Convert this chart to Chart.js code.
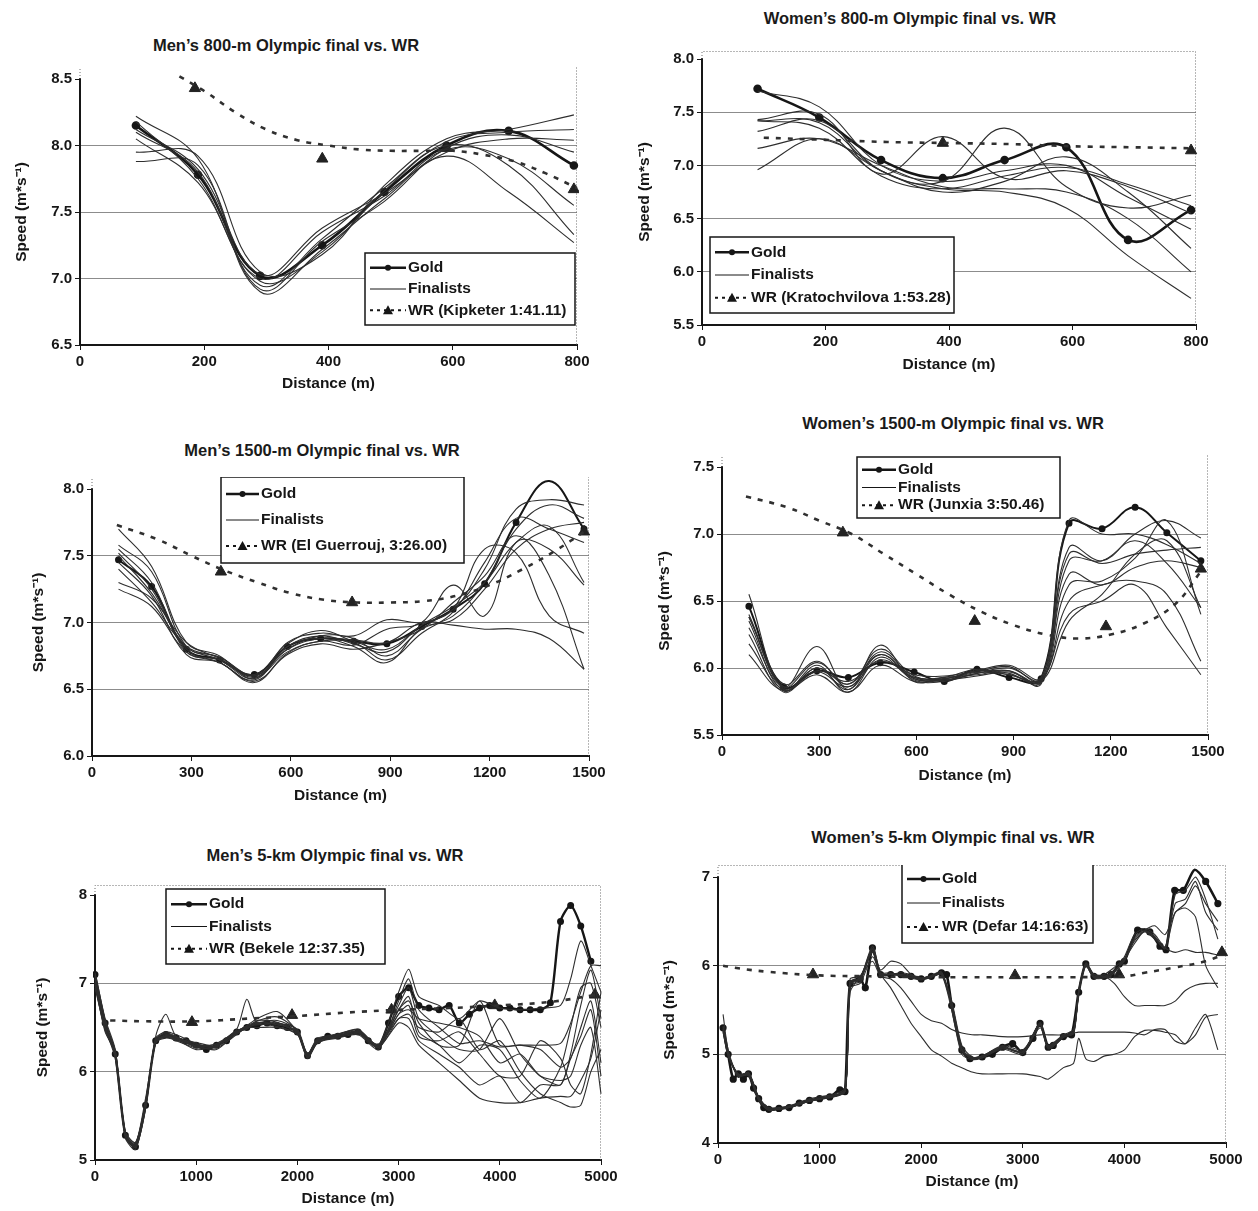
<!DOCTYPE html>
<html>
<head>
<meta charset="utf-8">
<title>Olympic finals vs. WR</title>
<script src="https://cdn.jsdelivr.net/npm/chart.js@4.4.1/dist/chart.umd.min.js"></script>
<style>
  body { margin: 0; background: #fff; width: 1258px; height: 1211px; position: relative; overflow: hidden;
         font-family: "Liberation Sans", Arial, sans-serif; }
  canvas { position: absolute; }
  .ptitle { position: absolute; transform: translate(-50%, -50%); font-weight: bold; font-size: 16.5px;
            color: #1a1a1a; white-space: nowrap; }
</style>
</head>
<body>
<script>
// ---- Men's 800 m ----
const m800Dist = [90, 190, 290, 390, 490, 590, 690, 795];
const m800Gold = [8.15, 7.78, 7.02, 7.25, 7.65, 8.00, 8.11, 7.85];
const m800Finalists = [
  [8.22, 7.90, 6.90, 7.22, 7.60, 7.92, 7.65, 7.27],
  [8.10, 7.80, 6.95, 7.30, 7.68, 8.00, 7.85, 7.33],
  [8.05, 7.72, 7.00, 7.35, 7.62, 7.97, 7.90, 7.55],
  [7.95, 7.92, 7.05, 7.18, 7.70, 8.05, 8.12, 8.23],
  [7.88, 7.85, 6.92, 7.28, 7.58, 7.98, 8.08, 7.95],
  [8.18, 7.75, 6.98, 7.20, 7.66, 8.03, 8.10, 8.12],
  [8.12, 7.82, 7.03, 7.38, 7.64, 7.95, 8.05, 8.04]
];
const m800WrDist = [160, 200, 250, 300, 350, 400, 450, 500, 550, 600, 650, 700, 750, 800];
const m800Wr = [8.52, 8.41, 8.25, 8.12, 8.04, 8.00, 7.97, 7.96, 7.96, 7.96, 7.93, 7.88, 7.79, 7.68];
const m800WrMarkDist = [185, 390, 590, 795];
const m800WrMarks = [8.43, 7.90, 7.98, 7.67];
const m800Labels = ["Gold", "Finalists", "WR (Kipketer 1:41.11)"];

// ---- Women's 800 m ----
const w800Dist = [90, 190, 290, 390, 490, 590, 690, 792];
const w800Gold = [7.72, 7.45, 7.05, 6.88, 7.05, 7.17, 6.30, 6.58];
const w800Finalists = [
  [7.70, 7.55, 7.00, 6.85, 6.95, 7.00, 6.70, 6.40],
  [7.43, 7.48, 6.92, 7.27, 6.88, 6.95, 6.80, 6.55],
  [7.42, 7.40, 6.95, 6.85, 7.35, 6.80, 6.60, 6.72],
  [7.32, 7.42, 6.95, 6.78, 6.75, 6.60, 6.15, 5.75],
  [7.16, 7.25, 7.00, 6.80, 6.78, 6.75, 6.50, 6.00],
  [6.96, 7.25, 6.95, 6.75, 6.85, 7.08, 6.75, 6.22],
  [7.42, 7.35, 6.90, 6.78, 6.90, 6.98, 6.82, 6.62]
];
const w800WrDist = [100, 200, 300, 400, 500, 600, 700, 800];
const w800Wr = [7.26, 7.24, 7.22, 7.21, 7.20, 7.18, 7.17, 7.16];
const w800WrMarkDist = [390, 792];
const w800WrMarks = [7.21, 7.14];
const w800Labels = ["Gold", "Finalists", "WR (Kratochvilova 1:53.28)"];

// ---- Men's 1500 m ----
const m1500Dist = [80, 180, 285, 385, 490, 590, 690, 790, 890, 995, 1090, 1185, 1280, 1380, 1485];
const m1500Gold = [7.47, 7.27, 6.80, 6.72, 6.61, 6.82, 6.88, 6.86, 6.84, 6.97, 7.10, 7.29, 7.75, 8.06, 7.70];
const m1500Finalists = [
  [7.70, 7.42, 6.85, 6.75, 6.58, 6.85, 6.92, 6.90, 7.02, 7.00, 7.10, 7.40, 7.85, 7.92, 7.88],
  [7.58, 7.38, 6.82, 6.74, 6.60, 6.80, 6.90, 6.88, 6.75, 6.95, 7.05, 7.30, 7.70, 7.88, 7.78],
  [7.55, 7.30, 6.78, 6.72, 6.59, 6.78, 6.86, 6.85, 6.72, 6.92, 7.08, 7.45, 7.78, 7.70, 7.60],
  [7.52, 7.25, 6.80, 6.70, 6.57, 6.82, 6.88, 6.82, 6.70, 6.96, 7.02, 7.25, 7.55, 7.70, 7.75],
  [7.45, 7.20, 6.76, 6.70, 6.55, 6.77, 6.86, 6.83, 6.95, 7.00, 7.28, 7.05, 7.60, 7.55, 7.28],
  [7.40, 7.15, 6.82, 6.74, 6.61, 6.84, 6.94, 6.86, 6.80, 6.98, 7.10, 7.55, 7.52, 7.05, 6.92],
  [7.30, 7.18, 6.85, 6.73, 6.60, 6.80, 6.88, 6.87, 6.85, 7.00, 6.98, 6.95, 6.95, 6.88, 6.65],
  [7.25, 7.12, 6.78, 6.70, 6.56, 6.76, 6.84, 6.80, 6.85, 6.95, 7.15, 7.35, 7.65, 7.35, 6.65],
  [7.50, 7.22, 6.82, 6.72, 6.58, 6.82, 6.90, 6.84, 6.78, 6.98, 7.12, 7.30, 7.60, 7.72, 7.30]
];
const m1500WrDist = [75, 200, 300, 400, 500, 600, 700, 800, 900, 1000, 1100, 1200, 1300, 1400, 1485];
const m1500Wr = [7.73, 7.62, 7.50, 7.39, 7.30, 7.22, 7.17, 7.15, 7.15, 7.16, 7.20, 7.28, 7.40, 7.54, 7.68];
const m1500WrMarkDist = [389, 785, 1485];
const m1500WrMarks = [7.38, 7.15, 7.68];
const m1500Labels = ["Gold", "Finalists", "WR (El Guerrouj, 3:26.00)"];

// ---- Women's 1500 m ----
const w1500Dist = [83, 190, 293, 390, 488, 593, 686, 787, 886, 985, 1071, 1173, 1275, 1373, 1478];
const w1500Gold = [6.46, 5.86, 5.98, 5.93, 6.04, 5.97, 5.90, 5.99, 5.93, 5.92, 7.08, 7.04, 7.20, 7.01, 6.80];
const w1500Finalists = [
  [6.55, 5.84, 6.00, 5.88, 6.10, 5.92, 5.91, 5.96, 6.00, 5.92, 7.10, 7.00, 7.00, 6.92, 6.78],
  [6.40, 5.86, 6.16, 5.84, 6.17, 5.90, 5.93, 5.95, 5.98, 5.90, 6.90, 6.80, 7.00, 7.10, 6.97],
  [6.38, 5.88, 6.05, 5.86, 6.12, 5.93, 5.92, 5.98, 6.02, 5.93, 6.85, 6.78, 6.85, 6.88, 6.90],
  [6.35, 5.83, 6.02, 5.82, 6.08, 5.91, 5.90, 5.96, 5.98, 5.88, 6.80, 6.80, 6.95, 6.78, 6.45],
  [6.30, 5.85, 5.98, 5.90, 6.05, 5.95, 5.94, 5.97, 5.95, 5.91, 6.70, 6.62, 6.75, 6.80, 6.75],
  [6.25, 5.82, 6.00, 5.84, 6.10, 5.92, 5.92, 5.98, 5.96, 5.89, 6.62, 6.65, 6.82, 7.10, 6.40],
  [6.18, 5.84, 5.95, 5.82, 6.02, 5.90, 5.91, 5.94, 5.97, 5.90, 6.50, 6.62, 6.65, 6.55, 6.05],
  [6.10, 5.83, 5.97, 5.86, 6.06, 5.93, 5.93, 5.99, 5.95, 5.92, 6.40, 6.50, 6.62, 6.30, 5.95],
  [6.38, 5.86, 6.04, 5.88, 6.14, 5.94, 5.92, 5.97, 6.01, 5.90, 6.35, 6.55, 6.85, 6.95, 6.45]
];
const w1500WrDist = [74, 200, 300, 400, 500, 600, 700, 800, 900, 1000, 1100, 1200, 1300, 1400, 1478];
const w1500Wr = [7.28, 7.20, 7.10, 7.00, 6.85, 6.70, 6.55, 6.42, 6.32, 6.25, 6.22, 6.25, 6.33, 6.48, 6.72];
const w1500WrMarkDist = [373, 780, 1185, 1478];
const w1500WrMarks = [7.01, 6.35, 6.31, 6.74];
const w1500Labels = ["Gold", "Finalists", "WR (Junxia 3:50.46)"];

// ---- Men's 5 km ----
const m5000GoldDist = [
  0, 100, 200, 300, 400, 500, 600, 700, 800, 900,
  1000, 1100, 1200, 1300, 1400, 1500, 1600, 1700, 1800, 1900,
  2000, 2100, 2200, 2300, 2400, 2500, 2600, 2700, 2800, 2900,
  3000, 3100, 3200, 3300, 3400, 3500, 3600, 3700, 3800, 3900,
  4000, 4100, 4200, 4300, 4400, 4500, 4600, 4700, 4800, 4900
];
const m5000Gold = [
  7.10, 6.55, 6.20, 5.28, 5.15, 5.62, 6.35, 6.42, 6.38, 6.35,
  6.30, 6.25, 6.30, 6.35, 6.45, 6.50, 6.52, 6.55, 6.52, 6.50,
  6.45, 6.18, 6.35, 6.40, 6.40, 6.42, 6.45, 6.35, 6.28, 6.55,
  6.85, 6.95, 6.75, 6.72, 6.70, 6.75, 6.55, 6.65, 6.72, 6.75,
  6.72, 6.72, 6.70, 6.70, 6.70, 6.78, 7.70, 7.88, 7.65, 7.25
];
const m5000FinDist = [
  0, 100, 200, 300, 400, 500, 600, 700, 800, 1000, 1200, 1400, 1500, 1600, 1800,
  2000, 2100, 2200, 2400, 2600, 2800, 3000, 3100, 3200, 3400, 3600, 3800,
  4000, 4200, 4400, 4600, 4700, 4800, 4900, 5000
];
const m5000Finalists = [
  [7.12, 6.60, 6.25, 5.25, 5.12, 5.60, 6.40, 6.65, 6.40, 6.28, 6.32, 6.48, 6.82, 6.55, 6.55, 6.48, 6.20, 6.38, 6.42, 6.48, 6.30,
   6.90, 7.16, 6.85, 6.75, 6.60, 6.80, 6.72, 6.70, 6.72, 6.75, 7.05, 7.48, 7.20, 6.90],
  [7.05, 6.50, 6.15, 5.28, 5.18, 5.70, 6.32, 6.40, 6.35, 6.27, 6.28, 6.45, 6.52, 6.60, 6.68, 6.45, 6.15, 6.33, 6.38, 6.42, 6.25,
   6.80, 7.05, 6.70, 6.50, 6.32, 6.35, 6.28, 6.30, 6.30, 6.32, 6.55, 6.90, 7.20, 7.20],
  [7.00, 6.45, 6.22, 5.32, 5.20, 5.62, 6.38, 6.45, 6.42, 6.32, 6.27, 6.42, 6.50, 6.50, 6.50, 6.42, 6.20, 6.36, 6.43, 6.47, 6.30,
   6.75, 6.95, 6.60, 6.40, 6.25, 6.25, 6.60, 6.20, 5.95, 5.85, 6.20, 6.75, 7.15, 6.60],
  [7.08, 6.58, 6.18, 5.30, 5.14, 5.58, 6.36, 6.40, 6.37, 6.25, 6.30, 6.47, 6.49, 6.55, 6.58, 6.47, 6.17, 6.34, 6.39, 6.44, 6.27,
   6.70, 6.85, 6.45, 6.30, 6.10, 6.30, 6.25, 5.90, 5.70, 6.05, 6.50, 6.95, 7.00, 6.50],
  [6.95, 6.48, 6.20, 5.26, 5.16, 5.65, 6.33, 6.38, 6.36, 6.29, 6.25, 6.44, 6.51, 6.53, 6.54, 6.44, 6.19, 6.37, 6.41, 6.46, 6.29,
   6.65, 6.75, 6.40, 6.35, 6.45, 6.20, 5.95, 5.95, 6.35, 6.15, 5.85, 5.75, 6.20, 6.90],
  [7.10, 6.52, 6.24, 5.29, 5.17, 5.60, 6.37, 6.43, 6.39, 6.31, 6.29, 6.46, 6.48, 6.57, 6.62, 6.46, 6.16, 6.35, 6.40, 6.43, 6.31,
   6.60, 6.60, 6.35, 6.20, 6.05, 5.85, 5.95, 5.65, 5.85, 5.85, 6.15, 6.40, 6.70, 5.95],
  [6.98, 6.47, 6.19, 5.31, 5.19, 5.66, 6.34, 6.41, 6.38, 6.30, 6.31, 6.43, 6.50, 6.54, 6.51, 6.43, 6.21, 6.32, 6.42, 6.45, 6.28,
   6.55, 6.50, 6.30, 6.10, 5.90, 5.70, 5.65, 5.65, 5.70, 5.72, 5.72, 5.90, 6.15, 6.70],
  [7.02, 6.53, 6.21, 5.27, 5.15, 5.63, 6.36, 6.44, 6.40, 6.28, 6.28, 6.45, 6.52, 6.56, 6.53, 6.46, 6.18, 6.36, 6.41, 6.44, 6.27,
   6.60, 6.65, 6.50, 6.45, 6.60, 6.25, 6.35, 6.00, 5.75, 5.65, 5.60, 5.62, 6.00, 6.25],
  [7.06, 6.56, 6.23, 5.29, 5.16, 5.61, 6.35, 6.39, 6.37, 6.33, 6.29, 6.44, 6.49, 6.58, 6.56, 6.44, 6.19, 6.34, 6.39, 6.46, 6.29,
   6.70, 6.80, 6.55, 6.30, 6.30, 6.80, 6.30, 6.30, 6.25, 6.05, 6.15, 6.50, 6.80, 6.10],
  [7.00, 6.50, 6.20, 5.30, 5.17, 5.64, 6.34, 6.42, 6.39, 6.29, 6.30, 6.46, 6.51, 6.55, 6.55, 6.45, 6.17, 6.35, 6.40, 6.45, 6.28,
   6.65, 6.70, 6.60, 6.55, 6.50, 6.40, 6.10, 6.20, 5.95, 5.90, 5.95, 6.30, 6.50, 5.75]
];
const m5000WrDist = [150, 500, 1000, 1500, 2000, 2500, 3000, 3500, 4000, 4500, 4950];
const m5000Wr = [6.58, 6.57, 6.57, 6.60, 6.63, 6.67, 6.70, 6.72, 6.75, 6.79, 6.87];
const m5000WrMarkDist = [958, 1947, 2930, 3950, 4940];
const m5000WrMarks = [6.56, 6.64, 6.70, 6.75, 6.87];
const m5000Labels = ["Gold", "Finalists", "WR (Bekele 12:37.35)"];

// ---- Women's 5 km ----
const w5000GoldDist = [
  50, 100, 150, 200, 250, 300, 350, 400, 450, 500,
  600, 700, 800, 900, 1000, 1100, 1200, 1250, 1300, 1400,
  1450, 1520, 1600, 1700, 1800, 1900, 2000, 2100, 2200, 2250,
  2300, 2400, 2480, 2600, 2700, 2800, 2900, 3000, 3100, 3170,
  3250, 3300, 3400, 3480, 3550, 3620, 3700, 3800, 3870, 3950,
  4000, 4130, 4250, 4350, 4410, 4495, 4580, 4690, 4800, 4920
];
const w5000Gold = [
  5.30, 5.00, 4.72, 4.78, 4.72, 4.78, 4.62, 4.50, 4.40, 4.38,
  4.39, 4.40, 4.45, 4.48, 4.50, 4.52, 4.60, 4.58, 5.80, 5.85,
  5.75, 6.20, 5.90, 5.90, 5.90, 5.88, 5.85, 5.88, 5.92, 5.90,
  5.55, 5.05, 4.95, 4.97, 5.00, 5.08, 5.12, 5.02, 5.18, 5.35,
  5.08, 5.10, 5.20, 5.22, 5.70, 6.02, 5.88, 5.88, 5.90, 6.02,
  6.05, 6.40, 6.38, 6.22, 6.18, 6.85, 6.85, 7.08, 6.95, 6.70
];
const w5000FinDist = [
  50, 100, 200, 300, 400, 500, 700, 900, 1100, 1250,
  1300, 1400, 1520, 1600, 1700, 1800, 1900, 2000, 2100, 2200,
  2300, 2400, 2500, 2600, 2800, 3000, 3170, 3250, 3400, 3500,
  3550, 3620, 3700, 3800, 3900, 4000, 4100, 4200, 4300, 4400,
  4500, 4600, 4700, 4800, 4920
];
const w5000Finalists = [
  [5.45, 5.05, 4.75, 4.80, 4.52, 4.40, 4.42, 4.50, 4.54, 4.62, 5.75, 5.80, 6.10, 5.90, 5.75, 5.55, 5.35, 5.20, 5.05, 4.98,
   4.90, 4.85, 4.80, 4.78, 4.78, 4.78, 4.75, 4.72, 4.85, 4.90, 5.18, 4.95, 4.92, 4.98, 5.00, 5.05, 5.20, 5.27, 5.27, 5.25,
   5.22, 5.12, 5.30, 5.45, 5.05],
  [5.28, 4.98, 4.76, 4.76, 4.48, 4.37, 4.41, 4.47, 4.53, 4.60, 5.70, 5.88, 6.05, 5.88, 5.85, 5.75, 5.60, 5.45, 5.38, 5.35,
   5.28, 5.24, 5.22, 5.22, 5.20, 5.20, 5.22, 5.22, 5.22, 5.24, 5.25, 5.25, 5.25, 5.25, 5.25, 5.25, 5.24, 5.22, 5.28, 5.28,
   5.15, 5.12, 5.22, 5.42, 5.45],
  [5.32, 5.02, 4.74, 4.79, 4.51, 4.39, 4.41, 4.49, 4.51, 4.59, 5.85, 5.88, 6.15, 5.95, 6.05, 6.02, 5.90, 5.85, 5.88, 5.90,
   5.60, 5.10, 4.97, 4.98, 5.10, 5.05, 5.30, 5.10, 5.22, 5.28, 5.68, 6.00, 5.90, 5.88, 5.80, 5.65, 5.55, 5.55, 5.55, 5.55,
   5.60, 5.72, 5.78, 5.80, 5.80],
  [5.25, 4.98, 4.77, 4.77, 4.49, 4.38, 4.40, 4.47, 4.52, 4.58, 5.78, 5.82, 6.18, 5.92, 5.92, 5.88, 5.86, 5.84, 5.87, 5.90,
   5.50, 5.00, 4.94, 4.96, 5.06, 5.00, 5.33, 5.06, 5.19, 5.24, 5.72, 6.00, 5.86, 5.86, 5.92, 6.10, 6.35, 6.42, 6.35, 6.20,
   6.15, 6.18, 6.15, 6.15, 6.12],
  [5.30, 5.00, 4.78, 4.78, 4.50, 4.38, 4.40, 4.48, 4.52, 4.58, 5.82, 5.86, 6.22, 5.92, 5.90, 5.92, 5.90, 5.86, 5.89, 5.93,
   5.58, 5.06, 4.96, 4.98, 5.09, 5.03, 5.36, 5.09, 5.21, 5.26, 5.70, 6.03, 5.90, 5.90, 5.98, 6.08, 6.25, 6.40, 6.45, 6.35,
   6.60, 6.70, 6.90, 6.70, 6.50],
  [5.28, 5.01, 4.76, 4.79, 4.51, 4.37, 4.41, 4.48, 4.53, 4.59, 5.79, 5.84, 6.16, 5.89, 5.91, 5.89, 5.87, 5.86, 5.88, 5.91,
   5.54, 5.04, 4.95, 4.97, 5.07, 5.02, 5.34, 5.07, 5.20, 5.23, 5.69, 6.01, 5.87, 5.87, 5.94, 6.06, 6.28, 6.38, 6.30, 6.20,
   6.70, 6.75, 6.95, 6.60, 6.40],
  [5.31, 5.02, 4.75, 4.77, 4.50, 4.39, 4.40, 4.47, 4.52, 4.60, 5.81, 5.86, 6.19, 5.91, 5.90, 5.90, 5.88, 5.85, 5.87, 5.92,
   5.56, 5.06, 4.96, 4.98, 5.08, 5.03, 5.35, 5.08, 5.21, 5.25, 5.71, 6.01, 5.88, 5.88, 5.93, 6.07, 6.30, 6.39, 6.32, 6.19,
   6.60, 6.65, 6.55, 6.00, 5.75],
  [5.29, 5.00, 4.77, 4.78, 4.49, 4.38, 4.40, 4.48, 4.51, 4.58, 5.80, 5.85, 6.20, 5.90, 5.90, 5.90, 5.89, 5.85, 5.88, 5.91,
   5.55, 5.05, 4.95, 4.97, 5.08, 5.02, 5.35, 5.08, 5.20, 5.25, 5.70, 6.02, 5.88, 5.88, 5.95, 6.05, 6.32, 6.40, 6.33, 6.20,
   6.80, 6.85, 7.00, 6.75, 6.30]
];
const w5000WrDist = [50, 200, 500, 1000, 1500, 2000, 2500, 3000, 3500, 4000, 4200, 4500, 4800, 4960];
const w5000Wr = [6.00, 5.97, 5.93, 5.89, 5.88, 5.87, 5.87, 5.87, 5.87, 5.88, 5.92, 5.98, 6.05, 6.12];
const w5000WrMarkDist = [935, 2923, 3947, 4960];
const w5000WrMarks = [5.90, 5.89, 5.90, 6.15];
const w5000Labels = ["Gold", "Finalists", "WR (Defar 14:16:63)"];

const FONT = '"Liberation Sans", Arial, sans-serif';
const INK = "#161616";

// dotted frame of the plot area (Excel style); it sits a little above the top tick
const plotFrame = {
  id: "plotFrame",
  beforeDatasetsDraw(chart, args, opts) {
    const { ctx, chartArea: a } = chart;
    const top = a.top - (opts.raise || 0) + 0.5;
    ctx.save();
    ctx.strokeStyle = "#6f6f6f";
    ctx.lineWidth = 1;
    ctx.setLineDash([1, 2]);
    ctx.beginPath();
    ctx.moveTo(a.left, a.top);
    ctx.lineTo(a.left, top);
    ctx.lineTo(a.right - 0.5, top);
    ctx.lineTo(a.right - 0.5, a.bottom);
    ctx.stroke();
    ctx.restore();
  }
};

// boxed legend inside the plot, line sample + marker + label
const boxLegend = {
  id: "boxLegend",
  afterDraw(chart, args, opts) {
    if (!opts.labels) return;
    const { ctx, chartArea: a } = chart;
    const x = a.left + opts.dx, y = a.top + opts.dy;
    ctx.save();
    ctx.fillStyle = "#fff";
    ctx.fillRect(x, y, opts.w, opts.h);
    ctx.strokeStyle = INK;
    ctx.lineWidth = 1.5;
    ctx.setLineDash([]);
    ctx.strokeRect(x, y, opts.w, opts.h);
    const rowH = (opts.h - 8) / 3;
    const x0 = x + 5, x1 = x + 5 + opts.sample;
    ctx.font = "bold 15.5px " + FONT;
    ctx.textBaseline = "middle";
    opts.labels.forEach((txt, i) => {
      const cy = y + 4 + rowH * (i + 0.5);
      const mx = (x0 + x1) / 2;
      ctx.strokeStyle = INK;
      ctx.fillStyle = INK;
      ctx.setLineDash(i === 2 ? [3, 4] : []);
      ctx.lineWidth = i === 0 ? 2.5 : i === 1 ? 1 : 2;
      ctx.beginPath();
      ctx.moveTo(x0, cy);
      ctx.lineTo(x1, cy);
      ctx.stroke();
      ctx.setLineDash([]);
      if (i === 0) {
        ctx.beginPath();
        ctx.arc(mx, cy, 3, 0, Math.PI * 2);
        ctx.fill();
      }
      if (i === 2) {
        ctx.beginPath();
        ctx.moveTo(mx, cy - 5);
        ctx.lineTo(mx + 5, cy + 4);
        ctx.lineTo(mx - 5, cy + 4);
        ctx.closePath();
        ctx.fill();
      }
      ctx.fillText(txt, x1 + 2, cy);
    });
    ctx.restore();
  }
};

function pts(dist, vals) {
  return dist.map((d, i) => ({ x: d, y: vals[i] }));
}

const panels = [
  { title: "Men\u2019s 800-m Olympic final vs. WR", tx: 286, ty: 45,
    box: [8, 67, 591, 331], yWidth: 72, xHeight: 53, xTitlePad: 4.6, raise: 16,
    xMax: 800, xStep: 200, yMin: 6.5, yMax: 8.5, yStep: 0.5, digits: 1,
    goldDist: m800Dist, gold: m800Gold, finDist: m800Dist, finalists: m800Finalists,
    wrDist: m800WrDist, wr: m800Wr, markDist: m800WrMarkDist, marks: m800WrMarks,
    labels: m800Labels, legend: { dx: 285, dy: 174, w: 210, h: 72, sample: 36 },
    tension: 0.4, goldWidth: 2.6, goldRadius: 3 },
  { title: "Women\u2019s 800-m Olympic final vs. WR", tx: 910, ty: 18,
    box: [631, 47, 587, 332], yWidth: 71, xHeight: 54, xTitlePad: 4.6, raise: 8,
    xMax: 800, xStep: 200, yMin: 5.5, yMax: 8.0, yStep: 0.5, digits: 1,
    goldDist: w800Dist, gold: w800Gold, finDist: w800Dist, finalists: w800Finalists,
    wrDist: w800WrDist, wr: w800Wr, markDist: w800WrMarkDist, marks: w800WrMarks,
    labels: w800Labels, legend: { dx: 8, dy: 178, w: 244, h: 76, sample: 34 },
    tension: 0.4, goldWidth: 2.6, goldRadius: 3 },
  { title: "Men\u2019s 1500-m Olympic final vs. WR", tx: 322, ty: 450,
    box: [25, 477, 586, 333], yWidth: 67, xHeight: 54, xTitlePad: 4.6, raise: 15,
    xMax: 1500, xStep: 300, yMin: 6.0, yMax: 8.0, yStep: 0.5, digits: 1,
    goldDist: m1500Dist, gold: m1500Gold, finDist: m1500Dist, finalists: m1500Finalists,
    wrDist: m1500WrDist, wr: m1500Wr, markDist: m1500WrMarkDist, marks: m1500WrMarks,
    labels: m1500Labels, legend: { dx: 129, dy: -12, w: 243, h: 86, sample: 33 },
    tension: 0.4, goldWidth: 2, goldRadius: 2.5 },
  { title: "Women\u2019s 1500-m Olympic final vs. WR", tx: 953, ty: 423,
    box: [651, 455, 579, 335], yWidth: 71, xHeight: 55, xTitlePad: 4.6, raise: 14,
    xMax: 1500, xStep: 300, yMin: 5.5, yMax: 7.5, yStep: 0.5, digits: 1,
    goldDist: w1500Dist, gold: w1500Gold, finDist: w1500Dist, finalists: w1500Finalists,
    wrDist: w1500WrDist, wr: w1500Wr, markDist: w1500WrMarkDist, marks: w1500WrMarks,
    labels: w1500Labels, legend: { dx: 135, dy: -10, w: 203, h: 61, sample: 34 },
    tension: 0.4, goldWidth: 2, goldRadius: 2.5 },
  { title: "Men\u2019s 5-km Olympic final vs. WR", tx: 335, ty: 855,
    box: [29, 883, 594, 328], yWidth: 66, xHeight: 51, xTitlePad: 2.6, raise: 10,
    xMax: 5000, xStep: 1000, yMin: 5, yMax: 8, yStep: 1, digits: 0,
    goldDist: m5000GoldDist, gold: m5000Gold, finDist: m5000FinDist, finalists: m5000Finalists,
    wrDist: m5000WrDist, wr: m5000Wr, markDist: m5000WrMarkDist, marks: m5000WrMarks,
    labels: m5000Labels, legend: { dx: 71, dy: -6, w: 219, h: 75, sample: 36 },
    tension: 0.25, goldWidth: 2.4, goldRadius: 2.3 },
  { title: "Women\u2019s 5-km Olympic final vs. WR", tx: 953, ty: 837,
    box: [656, 865, 592, 331], yWidth: 62, xHeight: 53, xTitlePad: 4.6, raise: 12,
    xMax: 5000, xStep: 1000, yMin: 4, yMax: 7, yStep: 1, digits: 0,
    goldDist: w5000GoldDist, gold: w5000Gold, finDist: w5000FinDist, finalists: w5000Finalists,
    wrDist: w5000WrDist, wr: w5000Wr, markDist: w5000WrMarkDist, marks: w5000WrMarks,
    labels: w5000Labels, legend: { dx: 184, dy: -14, w: 191, h: 80, sample: 33 },
    tension: 0.25, goldWidth: 2.6, goldRadius: 2.3 }
];

function buildPanel(p) {
  const [left, top, width, height] = p.box;
  const canvas = document.createElement("canvas");
  canvas.width = width;
  canvas.height = height;
  canvas.style.left = left + "px";
  canvas.style.top = top + "px";
  document.body.appendChild(canvas);

  const head = document.createElement("div");
  head.className = "ptitle";
  head.style.left = p.tx + "px";
  head.style.top = p.ty + "px";
  head.textContent = p.title;
  document.body.appendChild(head);

  // lines may run a little above the top tick, up to the dotted frame
  const clip = { left: 2, top: p.raise, right: 2, bottom: 2 };

  const datasets = p.finalists.map((vals) => ({
    data: pts(p.finDist, vals),
    borderColor: "#2e2e2e",
    borderWidth: 1.1,
    pointRadius: 0,
    tension: p.tension,
    clip
  }));
  datasets.push({
    data: pts(p.wrDist, p.wr),
    borderColor: "#303030",
    borderWidth: 2.6,
    borderDash: [5, 7],
    pointRadius: 0,
    tension: 0.4,
    clip
  });
  datasets.push({
    data: pts(p.markDist, p.marks),
    showLine: false,
    pointStyle: "triangle",
    pointRadius: 6.5,
    pointBackgroundColor: "#222",
    pointBorderColor: "#222",
    clip
  });
  datasets.push({
    data: pts(p.goldDist, p.gold),
    borderColor: INK,
    borderWidth: p.goldWidth,
    pointRadius: p.goldRadius,
    pointBackgroundColor: INK,
    pointBorderColor: INK,
    tension: p.tension,
    clip
  });

  const tickFont = { family: FONT, size: 15, weight: "bold" };
  const titleFont = { family: FONT, size: 15.5, weight: "bold" };

  new Chart(canvas.getContext("2d"), {
    type: "line",
    data: { datasets },
    options: {
      responsive: false,
      animation: false,
      devicePixelRatio: 1,
      layout: { padding: { top: 12, right: 22, left: 0, bottom: 0 } },
      plugins: {
        legend: { display: false },
        tooltip: { enabled: false },
        plotFrame: { raise: p.raise },
        boxLegend: Object.assign({ labels: p.labels }, p.legend)
      },
      scales: {
        x: {
          type: "linear",
          min: 0,
          max: p.xMax,
          border: { color: INK, width: 2 },
          grid: { drawOnChartArea: false, drawTicks: true, tickLength: 5, tickColor: INK },
          ticks: { stepSize: p.xStep, color: INK, font: tickFont, padding: 3, maxRotation: 0,
                   callback: (v) => String(v) },
          title: { display: true, text: "Distance (m)", color: INK, font: titleFont,
                   padding: { top: 0, bottom: p.xTitlePad } },
          afterFit: (s) => { s.height = p.xHeight; }
        },
        y: {
          min: p.yMin,
          max: p.yMax,
          border: { color: INK, width: 2 },
          grid: {
            color: (c) => (c.tick && c.tick.value === p.yMax ? "rgba(0,0,0,0)" : "#8c8c8c"),
            lineWidth: 1,
            tickLength: 5,
            tickColor: INK
          },
          ticks: { stepSize: p.yStep, color: INK, font: tickFont, padding: 3,
                   callback: (v) => v.toFixed(p.digits) },
          title: { display: true, text: "Speed (m*s\u207B\u00B9)", color: INK, font: titleFont,
                   padding: { top: 4, bottom: 4 } },
          afterFit: (s) => { s.width = p.yWidth; }
        }
      }
    },
    plugins: [plotFrame, boxLegend]
  });
}

panels.forEach(buildPanel);
</script>
</body>
</html>
